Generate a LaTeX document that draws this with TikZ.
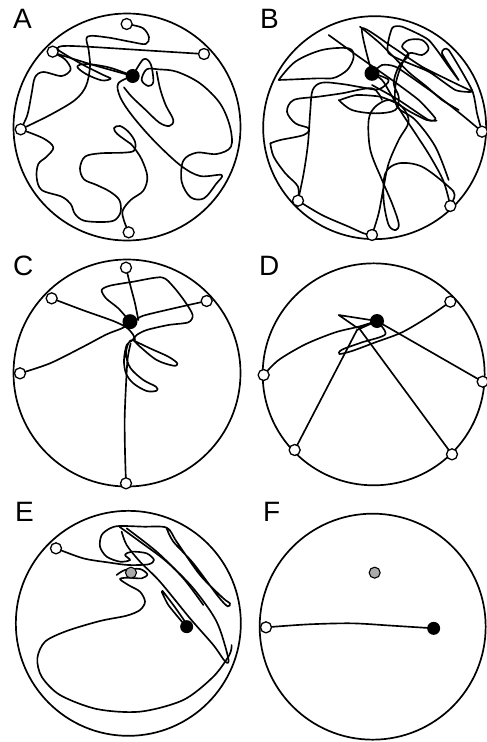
\documentclass[tikz,border=0pt]{standalone}
\usepackage{fontspec}
\setmainfont{Liberation Sans}
\definecolor{oldgray}{RGB}{170,170,170}
\begin{document}
\begin{tikzpicture}[x=1pt,y=-1pt,
  arena/.style={circle,draw,line width=1.7pt,inner sep=0pt},
  start/.style={circle,draw,fill=white,line width=1.3pt,minimum size=11pt,inner sep=0pt},
  goal/.style={circle,fill=black,minimum size=14pt,inner sep=0pt},
  oldgoal/.style={circle,draw,fill=oldgray,line width=1.1pt,minimum size=11pt,inner sep=0pt},
  track/.style={line width=1.65pt,line join=round,line cap=round},
  lab/.style={anchor=north west,inner sep=0pt,font=\fontsize{28}{28}\selectfont},
  zoomed/.style={x=0.33333pt,y=-0.33333pt}]
\useasboundingbox (0,0) rectangle (487,742);
\fill[white] (0,0) rectangle (487,742);
% labels
\node[lab] (labA) at (13,9) {A};
\node[lab] (labB) at (260,9) {B};
\node[lab] (labC) at (13,256) {C};
\node[lab] (labD) at (259,256) {D};
\node[lab] (labE) at (15,502) {E};
\node[lab] (labF) at (263,502) {F};
% ---------------- A
\begin{scope}[shift={(0,0)},zoomed]
\node[arena,minimum size=227pt] (arA) at (381,381) {};
\coordinate (a1) at (380,72); \coordinate (a2) at (612,162); \coordinate (a3) at (158,155);
\coordinate (a4) at (62,388); \coordinate (a5) at (386,697); \coordinate (ga) at (398,228);
\draw[track] plot[smooth,tension=.55] coordinates {(a2) (420,150) (260,140) (190,138) (172,146) (190,160) (250,195) (310,225) (332,236) (305,241) (258,222) (232,200) (260,192) (330,203) (ga)};
\draw[track] plot[smooth,tension=.55] coordinates {(a4) (82,345) (95,280) (105,232) (130,216) (185,228) (212,208) (195,178) (165,160) (205,172) (290,198) (ga)};
\draw[track] plot[smooth,tension=.55] coordinates {(a1) (428,84) (447,112) (437,132) (395,126) (320,112) (262,110) (266,150) (270,200) (258,258) (225,300) (150,345) (a4)};
\draw[track] plot[smooth,tension=.55] coordinates {(ga) (430,178) (452,192) (460,245) (445,258) (425,240) (440,208) (475,208) (530,215) (600,250) (660,310) (690,380) (693,440) (650,462) (590,458) (550,482) (545,545) (572,592) (612,595) (648,552) (665,525) (600,528) (540,495) (460,420) (395,345) (360,290) (355,250) (ga)};
\draw[track] plot[smooth,tension=.55] coordinates {(470,215) (480,265) (497,315) (520,360) (508,378) (478,368) (435,328) (395,290) (372,262)};
\draw[track] plot[smooth,tension=.55] coordinates {(a4) (130,415) (160,442) (140,470) (115,492) (110,532) (125,570) (185,590) (212,612) (225,642) (252,662) (310,666) (345,660) (362,635) (358,600) (330,575) (290,555) (252,538) (240,505) (255,470) (300,460) (370,458) (402,452) (405,425) (385,395) (360,378) (342,384) (352,402) (390,430)};
\draw[track] plot[smooth,tension=.55] coordinates {(a5) (372,662) (368,632) (392,600) (430,572) (442,530) (425,478) (400,440) (390,430)};
\node[start] (sA1) at (a1) {}; \node[start] (sA2) at (a2) {}; \node[start] (sA3) at (a3) {};
\node[start] (sA4) at (a4) {}; \node[start] (sA5) at (a5) {};
\node[goal,minimum size=14pt] (gA) at (ga) {};
\end{scope}
% ---------------- B
\begin{scope}[shift={(242,0)},zoomed]
\node[arena,minimum size=223pt] (arB) at (398,383) {};
\coordinate (b1) at (720,395); \coordinate (b2) at (625,618); \coordinate (b3) at (390,705);
\coordinate (b4) at (168,602); \coordinate (gb) at (390,220);
\draw[track] plot[smooth,tension=.55] coordinates {(b4) (185,520) (198,430) (205,330) (212,270) (240,248) (300,252) (360,262) (410,268) (440,240) (gb)};
\draw[track] plot[smooth,tension=.55] coordinates {(b4) (240,645) (320,680) (365,700) (b3)};
\draw[track] plot[smooth,tension=.55] coordinates {(b3) (410,640) (425,560) (440,490) (470,420) (500,365) (480,320) (440,300) (400,320) (380,360) (385,450) (420,540) (450,610) (470,670) (462,690) (440,675) (425,600) (430,520) (470,490) (540,500) (620,560) (638,585) (b2)};
\draw[track] plot[smooth,tension=.55] coordinates {(b2) (605,545) (565,470) (520,400) (480,340) (445,280) (420,240) (gb)};
\draw[track] plot[smooth,tension=.4] coordinates {(b1) (660,345) (590,290) (520,240) (460,200) (420,195) (gb)};
\draw[track] plot[smooth,tension=.35] coordinates {(260,105) (350,170) (450,240) (530,300) (580,355) (560,360) (470,300) (390,255)};
\draw[track] plot[smooth,tension=.35] coordinates {(gb) (360,85) (450,140) (540,200) (640,250) (690,275) (640,270) (560,215) (440,160) (450,85) (480,80) (560,120) (620,200) (650,240) (600,160) (620,150) (690,270) (705,340) (b1)};
\draw[track] plot[smooth,tension=.35] coordinates {(354,80) (414,130) (464,180) (504,220) (554,260) (600,300) (650,330)};
\draw[track] plot[smooth,tension=.35] coordinates {(294,300) (344,285) (414,290) (464,310) (504,335) (554,360) (584,362)};
\draw[track] plot[smooth,tension=.55] coordinates {(110,240) (160,185) (240,150) (320,145) (335,170) (320,205) (295,225) (270,235) (230,235) (160,238) (110,240)};
\draw[track] plot[smooth,tension=.55] coordinates {(85,430) (115,420) (185,405) (200,385) (160,370) (135,335) (155,300) (230,290) (300,280) (390,265) (420,300)};
\draw[track] plot[smooth,tension=.55] coordinates {(290,300) (330,330) (400,340) (460,330) (470,290) (455,250) (470,200) (500,165) (480,140) (500,120) (540,120) (560,145) (540,165) (500,160) (475,205) (460,260) (465,320) (520,360) (580,440) (620,540)};
\draw[track] plot[smooth,tension=.55] coordinates {(85,430) (95,470) (130,520) (168,560) (b4)};
\node[start] (sB1) at (b1) {}; \node[start] (sB2) at (b2) {}; \node[start] (sB3) at (b3) {};
\node[start] (sB4) at (b4) {};
\node[goal,minimum size=15pt] (gB) at (gb) {};
\end{scope}
% ---------------- C
\begin{scope}[shift={(0,245)},zoomed]
\node[arena,minimum size=227pt] (arC) at (381,384) {};
\coordinate (c1) at (378,68); \coordinate (c2) at (620,168); \coordinate (c3) at (155,160);
\coordinate (c4) at (60,385); \coordinate (c5) at (378,715); \coordinate (gc) at (390,230);
\draw[track] plot[smooth,tension=.5] coordinates {(c3) (250,196) (340,228) (380,248) (400,270) (405,285)};
\draw[track] plot[smooth,tension=.5] coordinates {(c4) (150,355) (250,305) (320,268) (370,248) (gc)};
\draw[track] plot[smooth,tension=.5] coordinates {(c1) (392,125) (405,175) (415,225)};
\draw[track] plot[smooth,tension=.5] coordinates {(c2) (530,188) (430,212) (410,225)};
\draw[track] plot[smooth,tension=.45] coordinates {(gc) (355,190) (318,160) (305,135) (330,122) (400,110) (485,97) (520,125) (555,170) (578,210) (565,232) (505,240) (440,255) (410,270) (398,285)};
\draw[track] plot[smooth,tension=.55] coordinates {(398,285) (450,310) (505,335) (532,355) (520,362) (470,345) (420,305) (398,285) (385,295) (378,330) (392,370) (430,405) (468,425) (470,437) (440,438) (400,415) (378,385) (372,345) (380,300) (395,288)};
\draw[track] plot[smooth,tension=.5] coordinates {(c5) (375,620) (374,520) (378,420) (383,340) (392,295)};
\node[start] (sC1) at (c1) {}; \node[start] (sC2) at (c2) {}; \node[start] (sC3) at (c3) {};
\node[start] (sC4) at (c4) {}; \node[start] (sC5) at (c5) {};
\node[goal,minimum size=15pt] (gC) at (gc) {};
\end{scope}
% ---------------- D
\begin{scope}[shift={(242,245)},zoomed]
\node[arena,minimum size=222pt] (arD) at (395,388) {};
\coordinate (d1) at (625,170); \coordinate (d2) at (722,410); \coordinate (d3) at (630,628);
\coordinate (d4) at (158,615); \coordinate (d5) at (65,390); \coordinate (gd) at (405,228);
\draw[track] plot[smooth,tension=.5] coordinates {(d5) (110,345) (190,298) (280,262) (350,245) (gd)};
\draw[track] plot[smooth,tension=.5] coordinates {(d1) (560,215) (480,262) (400,292) (330,318) (292,327) (300,314) (360,292) (430,268) (gd)};
\draw[track] (d2) -- (gd);
\draw[track] (d3) -- (350,248) -- (gd);
\draw[track] (d4) -- (345,255) -- (gd);
\draw[track] (gd) -- (290,210) -- (345,248);
\node[start] (sD1) at (d1) {}; \node[start] (sD2) at (d2) {}; \node[start] (sD3) at (d3) {};
\node[start] (sD4) at (d4) {}; \node[start] (sD5) at (d5) {};
\node[goal,minimum size=14pt] (gD) at (gd) {};
\end{scope}
% ---------------- E
\begin{scope}[shift={(0,495)},zoomed]
\node[arena,minimum size=225pt] (arE) at (385,385) {};
\coordinate (e1) at (168,160); \coordinate (oe) at (393,233); \coordinate (ge) at (560,395);
\draw[track] plot[smooth,tension=.5] coordinates {(e1) (250,190) (330,203) (385,210) (445,208) (462,195) (440,175) (395,170) (375,180) (390,195) (360,200) (320,185) (300,155) (305,120) (330,100) (358,93) (430,95) (500,98) (530,140) (600,240) (670,310) (690,325) (683,334) (655,305) (580,205) (520,140) (500,100)};
\draw[track] plot[smooth,tension=.5] coordinates {(358,95) (420,140) (500,200) (580,280) (650,380) (685,490) (676,500) (640,450) (570,370) (480,260) (420,200) (380,150) (365,110)};
\draw[track] plot[smooth,tension=.5] coordinates {(380,100) (470,170) (550,250) (610,330)};
\draw[track] plot[smooth,tension=.5] coordinates {(350,240) (375,225) (420,222) (442,238) (425,250) (385,248) (360,252) (385,270) (420,290) (435,320) (420,345) (380,362) (300,378) (200,408) (135,440) (112,490) (125,545) (180,600) (290,642) (420,650) (550,615) (640,545) (688,480) (695,450)};
\draw[track] plot[smooth,tension=.4] coordinates {(487,287) (520,330) (555,380) (ge) (550,385) (505,330) (485,290)};
\node[start] (sE1) at (e1) {};
\node[oldgoal] (oE) at (oe) {};
\node[goal,minimum size=13pt] (gE) at (ge) {};
\end{scope}
% ---------------- F
\begin{scope}[shift={(242,495)},zoomed]
\node[arena,minimum size=226pt] (arF) at (392,395) {};
\coordinate (f1) at (72,397); \coordinate (of) at (398,233); \coordinate (gf) at (575,400);
\draw[track] plot[smooth,tension=.5] coordinates {(f1) (200,388) (330,385) (450,392) (gf)};
\node[start] (sF1) at (f1) {};
\node[oldgoal] (oF) at (of) {};
\node[goal,minimum size=13pt] (gF) at (gf) {};
\end{scope}
\end{tikzpicture}
\end{document}
